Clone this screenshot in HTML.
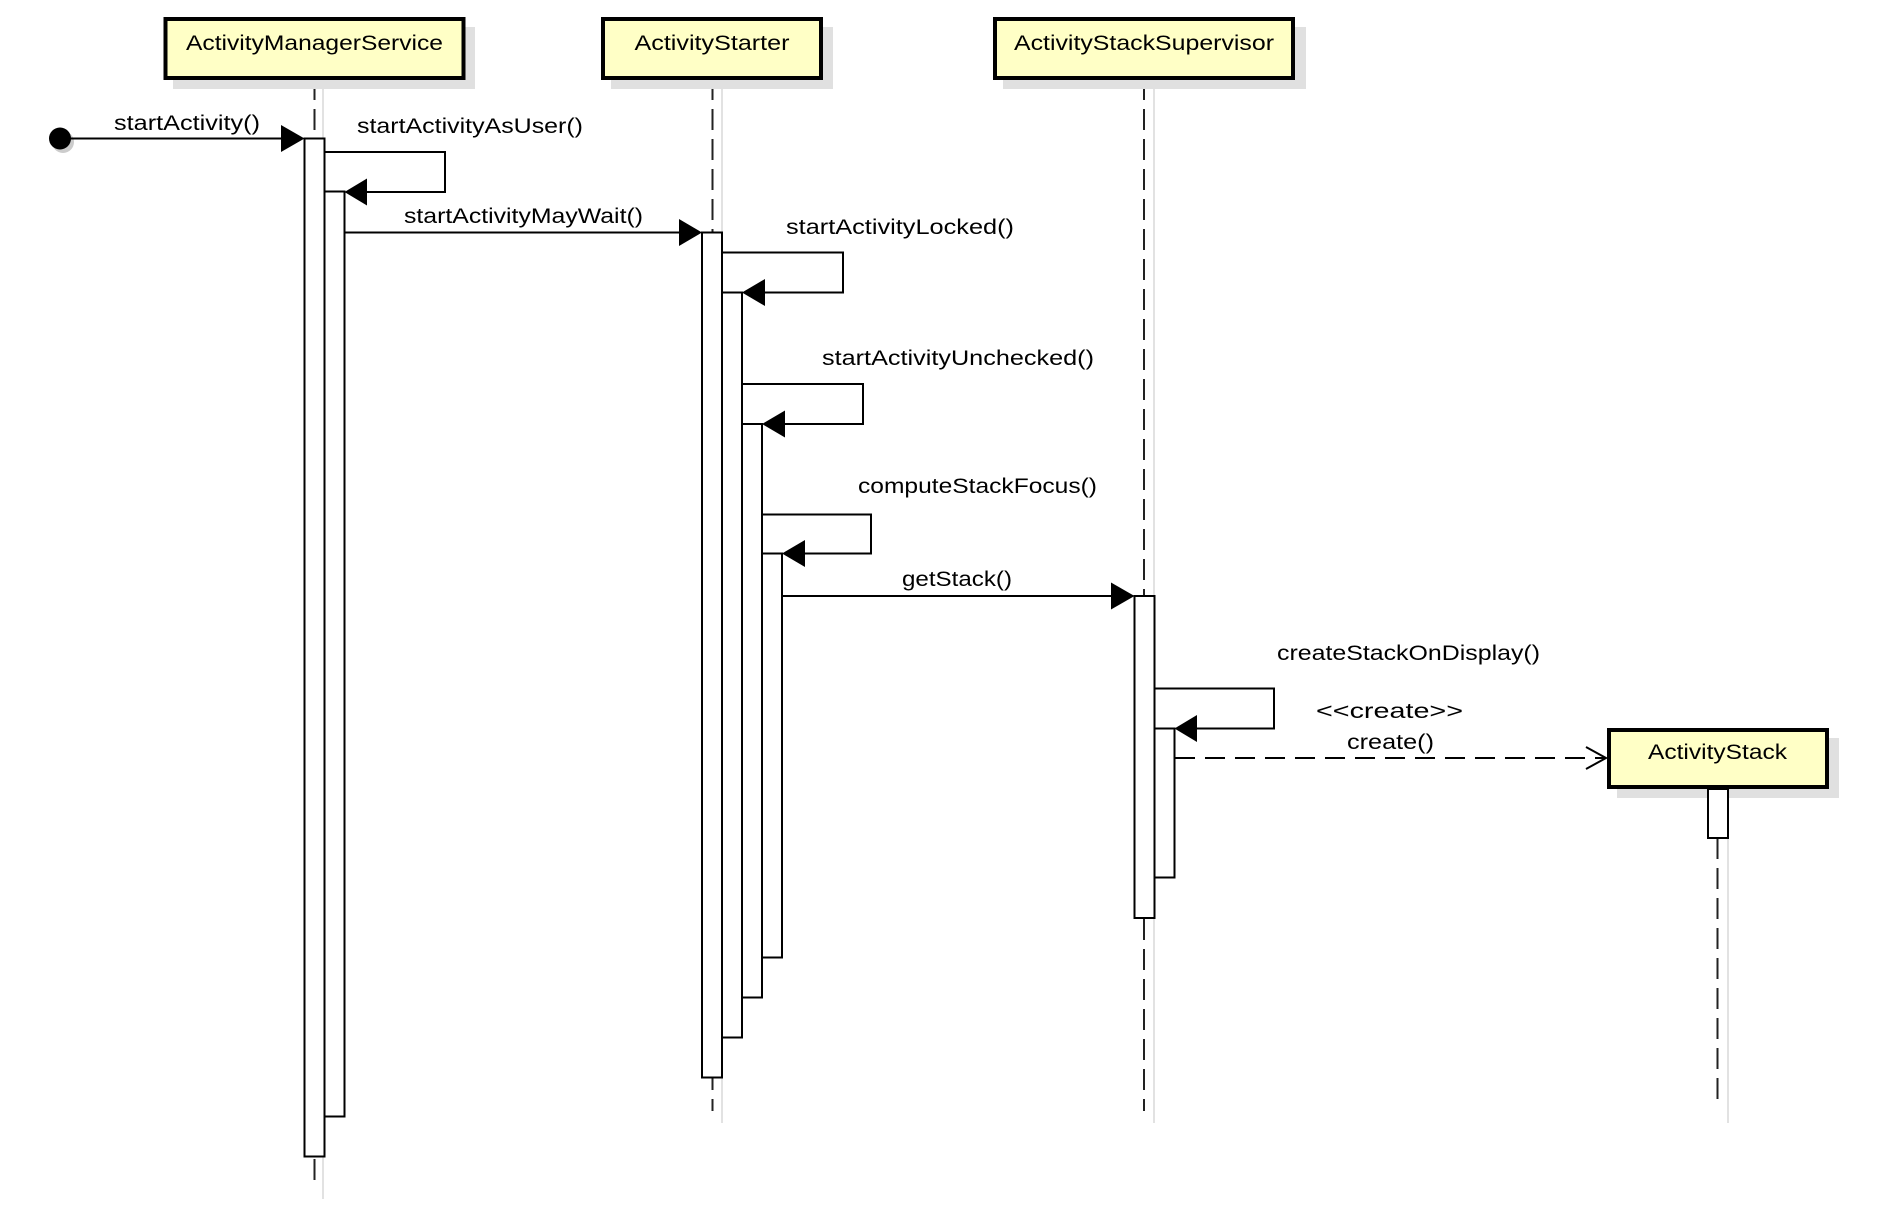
<!DOCTYPE html>
<html><head><meta charset="utf-8"><style>
html,body{margin:0;padding:0;background:#fff;width:1894px;height:1210px;overflow:hidden}
svg{display:block}
text{font-family:"Liberation Sans","DejaVu Sans",sans-serif;font-size:21px;fill:#000}
</style></head><body>
<svg width="1894" height="1210" viewBox="0 0 1894 1210" xmlns="http://www.w3.org/2000/svg">
<g stroke="#e2e2e2" stroke-width="2">
<line x1="323" y1="89" x2="323" y2="1199"/>
<line x1="722" y1="89" x2="722" y2="1123"/>
<line x1="1154" y1="89" x2="1154" y2="1123"/>
<line x1="1728" y1="798" x2="1728" y2="1123"/>
</g>
<g stroke="#222" stroke-width="2" stroke-dasharray="21 9">
<line x1="314.5" y1="79" x2="314.5" y2="1181"/>
<line x1="712.5" y1="79" x2="712.5" y2="1111"/>
<line x1="1144" y1="79" x2="1144" y2="1111"/>
<line x1="1717.5" y1="838" x2="1717.5" y2="1101"/>
</g>
<g>
<rect x="173" y="27" width="302" height="62" fill="#e0e0e0"/>
<rect x="165.5" y="19" width="298" height="59" fill="#ffffc6" stroke="#000" stroke-width="4"/>
<text x="314.5" y="50" text-anchor="middle" textLength="257" lengthAdjust="spacingAndGlyphs">ActivityManagerService</text>
<rect x="611" y="27" width="222" height="62" fill="#e0e0e0"/>
<rect x="603" y="19" width="218" height="59" fill="#ffffc6" stroke="#000" stroke-width="4"/>
<text x="712" y="50" text-anchor="middle" textLength="155" lengthAdjust="spacingAndGlyphs">ActivityStarter</text>
<rect x="1003" y="27" width="303" height="62" fill="#e0e0e0"/>
<rect x="995" y="19" width="298" height="59" fill="#ffffc6" stroke="#000" stroke-width="4"/>
<text x="1144" y="50" text-anchor="middle" textLength="260" lengthAdjust="spacingAndGlyphs">ActivityStackSupervisor</text>
<rect x="1617" y="738" width="222" height="60" fill="#e0e0e0"/>
<rect x="1609" y="730" width="218" height="57" fill="#ffffc6" stroke="#000" stroke-width="4"/>
<text x="1717.5" y="759" text-anchor="middle" textLength="139" lengthAdjust="spacingAndGlyphs">ActivityStack</text>
</g>
<g fill="#fff" stroke="#000" stroke-width="2">
<rect x="304.5" y="138.5" width="20" height="1018"/>
<rect x="324.5" y="191.5" width="20" height="925"/>
<rect x="702" y="232.5" width="20" height="845"/>
<rect x="722" y="292.5" width="20" height="745"/>
<rect x="742" y="424" width="20" height="573.5"/>
<rect x="762" y="553.5" width="20" height="404"/>
<rect x="1134.5" y="596" width="20" height="322"/>
<rect x="1154.5" y="728.5" width="20" height="149"/>
<rect x="1708" y="789" width="20" height="49"/>
</g>
<circle cx="63" cy="142" r="11" fill="#ccc"/>
<circle cx="60" cy="138.5" r="11" fill="#000"/>
<g stroke="#000" stroke-width="2" fill="none">
<line x1="60" y1="138.5" x2="284" y2="138.5"/>
<polyline points="324.5,152 445,152 445,192 366,192"/>
<line x1="344.5" y1="232.5" x2="682" y2="232.5"/>
<polyline points="722,252.5 843,252.5 843,292.5 762,292.5"/>
<polyline points="742,384 863,384 863,424 782,424"/>
<polyline points="762,514.5 871,514.5 871,553.5 802,553.5"/>
<line x1="782" y1="596" x2="1114" y2="596"/>
<polyline points="1154.5,688.5 1274,688.5 1274,728.5 1194,728.5"/>
<line x1="1175" y1="758" x2="1606" y2="758" stroke-dasharray="20 10"/>
<polyline points="1586,747 1606,758 1586,769"/>
</g>
<g fill="#000">
<polygon points="304.5,138.5 281,125 281,152"/>
<polygon points="344.5,192 367,178.5 367,205.5"/>
<polygon points="702,232.5 679,219 679,246"/>
<polygon points="742,292.5 765,279 765,306"/>
<polygon points="762,424 785,410.5 785,437.5"/>
<polygon points="782,553.5 805,540 805,567"/>
<polygon points="1134.5,596 1111,582.5 1111,609.5"/>
<polygon points="1174.5,728.5 1197,715 1197,742"/>
</g>
<g>
<text x="114" y="130" textLength="146" lengthAdjust="spacingAndGlyphs">startActivity()</text>
<text x="357" y="133" textLength="226" lengthAdjust="spacingAndGlyphs">startActivityAsUser()</text>
<text x="404" y="223" textLength="239" lengthAdjust="spacingAndGlyphs">startActivityMayWait()</text>
<text x="786" y="234" textLength="228" lengthAdjust="spacingAndGlyphs">startActivityLocked()</text>
<text x="822" y="365" textLength="272" lengthAdjust="spacingAndGlyphs">startActivityUnchecked()</text>
<text x="858" y="493" textLength="239" lengthAdjust="spacingAndGlyphs">computeStackFocus()</text>
<text x="902" y="586" textLength="110" lengthAdjust="spacingAndGlyphs">getStack()</text>
<text x="1277" y="660" textLength="263" lengthAdjust="spacingAndGlyphs">createStackOnDisplay()</text>
<text x="1316" y="718" textLength="147" lengthAdjust="spacingAndGlyphs">&lt;&lt;create&gt;&gt;</text>
<text x="1347" y="749" textLength="87" lengthAdjust="spacingAndGlyphs">create()</text>
</g>
</svg>
</body></html>
